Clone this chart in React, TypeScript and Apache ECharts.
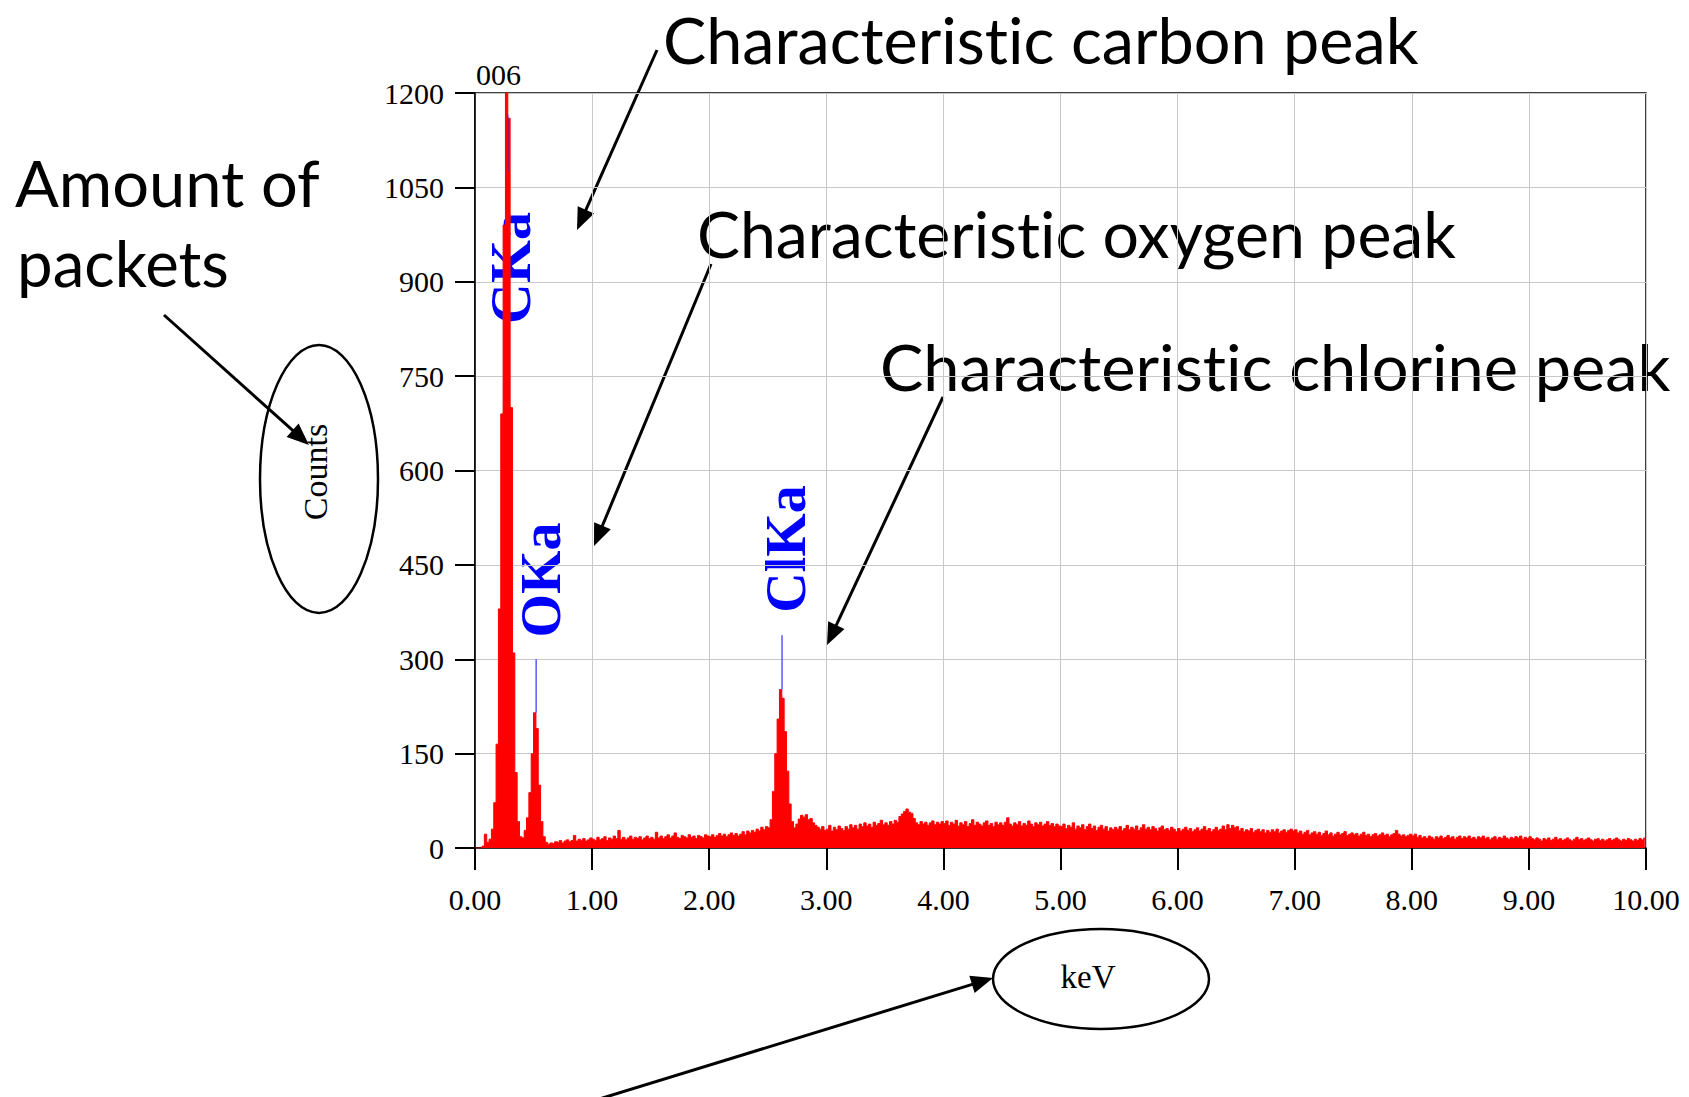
import React, { useEffect, useRef } from "react";
import * as echarts from "echarts";

// EDS spectrum, channels of 0.02 keV (channel i centred at 0.01 + 0.02*i keV)
const CHANNEL_KEV = 0.02;
const counts0to1 = [
  0, 0, 0, 3, 22, 9, 14, 30, 72, 165, 380, 690, 990, 1240, 1160, 700, 310, 120, 42, 18, 16, 28, 48, 88, 150,
  215, 190, 100, 42, 18, 9, 6, 8, 7, 10, 9, 12, 8, 11, 13, 10, 12, 20, 11, 14, 12, 15, 11, 13, 16,
];
const counts1to2 = [
  14, 12, 17, 13, 15, 18, 12, 16, 14, 19, 15, 28, 14, 17, 13, 16, 19, 14, 17, 15, 18, 13, 16, 19, 15,
  17, 14, 25, 16, 19, 15, 18, 21, 16, 19, 24, 17, 15, 20, 18, 16, 21, 17, 19, 15, 20, 18, 16, 21, 19,
];
const counts2to3 = [
  18, 21, 17, 20, 23, 19, 22, 18, 21, 24, 20, 23, 19, 22, 26, 21, 27, 24, 28, 25, 30, 27, 33, 29, 34,
  32, 45, 90, 150, 205, 252, 238, 185, 122, 70, 42, 32, 38, 46, 52, 49, 53, 45, 47, 40, 36, 33, 30, 34, 28,
];
const counts3to4 = [
  30, 36, 27, 33, 29, 35, 31, 28, 34, 30, 37, 32, 36, 30, 38, 34, 40, 35, 38, 33, 41, 36, 39, 44, 37,
  40, 36, 42, 38, 44, 41, 50, 54, 58, 62, 57, 55, 47, 40, 37, 42, 38, 41, 36, 40, 43, 37, 41, 38, 42,
];
const counts4to5 = [
  39, 43, 36, 41, 38, 44, 35, 40, 37, 42, 34, 39, 45, 36, 41, 38, 35, 40, 43, 36, 39, 34, 41, 37, 40,
  36, 41, 48, 38, 35, 40, 37, 42, 35, 39, 36, 43, 38, 34, 40, 37, 41, 35, 38, 42, 36, 39, 34, 38, 35,
];
const counts5to6 = [
  34, 38, 31, 36, 33, 40, 30, 35, 32, 37, 29, 34, 38, 31, 35, 28, 33, 36, 30, 34, 27, 32, 29, 33, 30,
  34, 28, 31, 36, 29, 33, 30, 35, 28, 32, 37, 30, 33, 29, 34, 31, 27, 32, 35, 29, 31, 28, 33, 30, 26,
];
const counts6to7 = [
  31, 27, 30, 33, 28, 31, 26, 29, 32, 27, 30, 34, 28, 31, 26, 29, 33, 28, 30, 35, 29, 37, 31, 36, 32,
  34, 28, 31, 26, 29, 27, 31, 25, 28, 30, 26, 29, 24, 28, 25, 29, 26, 30, 24, 27, 29, 25, 28, 30, 27,
];
const counts7to8 = [
  29, 24, 27, 22, 25, 28, 21, 24, 26, 22, 25, 20, 23, 27, 21, 24, 19, 22, 25, 21, 23, 26, 20, 22, 24,
  21, 23, 19, 22, 25, 20, 22, 18, 21, 23, 19, 21, 24, 20, 22, 18, 21, 23, 28, 22, 19, 21, 18, 20, 22,
];
const counts8to9 = [
  19, 22, 17, 20, 16, 18, 15, 19, 17, 14, 18, 16, 19, 15, 17, 20, 16, 18, 14, 17, 19, 15, 18, 16, 19,
  15, 17, 14, 18, 16, 19, 15, 17, 13, 16, 18, 14, 17, 15, 19, 16, 14, 17, 15, 18, 16, 19, 14, 17, 15,
];
const counts9to10 = [
  18, 15, 13, 16, 14, 11, 15, 13, 16, 12, 14, 17, 13, 15, 12, 14, 16, 13, 11, 14, 17, 13, 15, 12, 14,
  16, 13, 11, 14, 15, 12, 14, 11, 13, 15, 12, 14, 16, 13, 11, 14, 12, 15, 13, 11, 14, 12, 15, 13, 16,
];

// element marker lines (keV, from count, to count)
const markerEnergies = [0.28, 0.522, 2.622];
const markerFrom = [1075, 215, 252];
const markerTo = [1166, 300, 338];

const X_MIN = 0, X_MAX = 10, X_STEP = 1;
const Y_MIN = 0, Y_MAX = 1200, Y_STEP = 150;

function measure(text: string, font: string): number {
  const c = document.createElement("canvas").getContext("2d");
  if (!c) return 1;
  c.font = font;
  return c.measureText(text).width;
}

function arrow(x1: number, y1: number, x2: number, y2: number) {
  const dx = x2 - x1, dy = y2 - y1;
  const len = Math.sqrt(dx * dx + dy * dy);
  const ux = dx / len, uy = dy / len;
  const L = 22, W = 9;
  const bx = x2 - ux * L, by = y2 - uy * L;
  const px = -uy, py = ux;
  return [
    { type: "line", shape: { x1, y1, x2: bx + ux * 2, y2: by + uy * 2 }, style: { stroke: "#000", lineWidth: 3 } },
    {
      type: "polygon",
      shape: { points: [[x2, y2], [bx + px * W, by + py * W], [bx - px * W, by - py * W]] },
      style: { fill: "#000" },
    },
  ];
}

export default function App() {
  const ref = useRef<HTMLDivElement>(null);
  useEffect(() => {
    if (!ref.current) return;
    const chart = echarts.init(ref.current, null, { renderer: "svg" });
    const counts = [
      ...counts0to1, ...counts1to2, ...counts2to3, ...counts3to4, ...counts4to5,
      ...counts5to6, ...counts6to7, ...counts7to8, ...counts8to9, ...counts9to10,
    ];
    const spectrum = counts.map((c, i) => [CHANNEL_KEV / 2 + CHANNEL_KEV * i, c]);

    const annFont = 63;
    const annFamily = "Lato";
    const annotations = [
      { text: "Characteristic carbon peak", left: 663, cy: 40, width: 757 },
      { text: "Characteristic oxygen peak", left: 697, cy: 234, width: 760 },
      { text: "Characteristic chlorine peak", left: 880, cy: 367, width: 792 },
      { text: "Amount of", left: 15, cy: 183, width: 305 },
      { text: "packets", left: 17, cy: 263, width: 212 },
    ];
    const annElems = annotations.map((a) => {
      const w = measure(a.text, `${annFont}px ${annFamily}`);
      return {
        type: "text",
        x: a.left,
        y: a.cy,
        scaleX: a.width / w,
        style: {
          text: a.text,
          fontSize: annFont,
          fontFamily: annFamily,
          fill: "#000",
          textAlign: "left",
          textVerticalAlign: "middle",
          align: "left",
          verticalAlign: "middle",
        },
      };
    });

    const elemLabel = (text: string, x: number, y: number) => ({
      type: "text",
      x,
      y,
      rotation: Math.PI / 2,
      style: {
        text,
        fontSize: 56,
        fontWeight: "bold",
        fontFamily: "Liberation Serif",
        fill: "#0000ff",
        textAlign: "center",
        textVerticalAlign: "middle",
        align: "center",
        verticalAlign: "middle",
      },
    });

    const markerSeries = markerEnergies.map((e, k) => ({
      type: "line",
      data: [[e, markerFrom[k]], [e, markerTo[k]]],
      symbol: "none",
      lineStyle: { color: "#3030ff", width: 1.2 },
      z: 3,
      silent: true,
    }));

    chart.setOption({
      animation: false,
      grid: {
        left: 475,
        top: 93,
        width: 1171,
        height: 755,
        show: true,
        borderColor: "#000",
        borderWidth: 1.5,
        backgroundColor: "transparent",
      },
      xAxis: {
        type: "value",
        min: X_MIN,
        max: X_MAX,
        interval: X_STEP,
        axisLine: { show: true, lineStyle: { color: "#000", width: 1.5 } },
        axisTick: { show: true, length: 22, lineStyle: { color: "#000", width: 2 } },
        axisLabel: {
          color: "#000",
          fontFamily: "Liberation Serif",
          fontSize: 30,
          margin: 36,
          formatter: (v: number) => v.toFixed(2),
        },
        splitLine: { show: true, lineStyle: { color: "#c8c8c8", width: 1 } },
      },
      yAxis: {
        type: "value",
        min: Y_MIN,
        max: Y_MAX,
        interval: Y_STEP,
        axisLine: { show: true, lineStyle: { color: "#000", width: 1.5 } },
        axisTick: { show: true, length: 20, lineStyle: { color: "#000", width: 2 } },
        axisLabel: {
          color: "#000",
          fontFamily: "Liberation Serif",
          fontSize: 30,
          margin: 31,
          formatter: (v: number) => String(v),
        },
        splitLine: { show: true, lineStyle: { color: "#c8c8c8", width: 1 } },
      },
      series: [
        {
          type: "line",
          name: "Counts",
          data: spectrum,
          step: "middle",
          symbol: "none",
          lineStyle: { color: "#ff0000", width: 1 },
          areaStyle: { color: "#ff0000", opacity: 1 },
          z: 2,
          clip: true,
          silent: true,
        },
        ...markerSeries,
      ],
      graphic: [
        {
          type: "text",
          x: 476,
          y: 74,
          style: {
            text: "006",
            fontSize: 30,
            fontFamily: "Liberation Serif",
            fill: "#000",
            textAlign: "left",
            textVerticalAlign: "middle",
            align: "left",
            verticalAlign: "middle",
          },
        },
        elemLabel("CKa", 511, 268),
        elemLabel("OKa", 541, 580),
        elemLabel("ClKa", 786, 549),
        {
          type: "ellipse",
          shape: { cx: 319, cy: 479, rx: 59, ry: 134 },
          style: { fill: "none", stroke: "#000", lineWidth: 2.5 },
        },
        {
          type: "text",
          x: 315,
          y: 472,
          rotation: Math.PI / 2,
          style: {
            text: "Counts",
            fontSize: 34,
            fontFamily: "Liberation Serif",
            fill: "#000",
            textAlign: "center",
            textVerticalAlign: "middle",
            align: "center",
            verticalAlign: "middle",
          },
        },
        {
          type: "ellipse",
          shape: { cx: 1101, cy: 979, rx: 108, ry: 50 },
          style: { fill: "none", stroke: "#000", lineWidth: 2.5 },
        },
        {
          type: "text",
          x: 1088,
          y: 977,
          style: {
            text: "keV",
            fontSize: 33,
            fontFamily: "Liberation Serif",
            fill: "#000",
            textAlign: "center",
            textVerticalAlign: "middle",
            align: "center",
            verticalAlign: "middle",
          },
        },
        ...arrow(657, 50, 577, 230),
        ...arrow(711, 264, 594, 546),
        ...arrow(943, 397, 827, 645),
        ...arrow(164, 315, 309, 445),
        ...arrow(596, 1100, 993, 978),
        ...annElems,
      ],
    });
    return () => chart.dispose();
  }, []);
  return (
    <div
      ref={ref}
      style={{
        position: "fixed",
        left: 0,
        top: 0,
        width: 1689,
        height: 1097,
        background: "#fff",
        fontVariantLigatures: "none",
        fontFeatureSettings: '"liga" 0, "clig" 0',
      }}
    />
  );
}
